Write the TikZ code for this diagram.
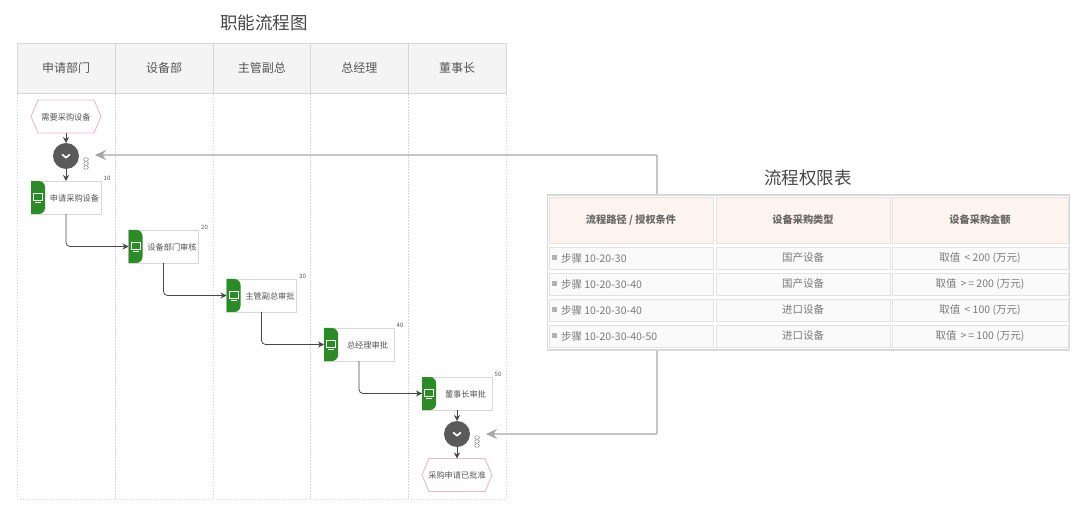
\documentclass[tikz,border=0pt]{standalone}
\usepackage{fontspec}
\setmainfont{Noto Sans CJK SC}
\usetikzlibrary{arrows.meta,calc,positioning}
\definecolor{lanegray}{HTML}{D8D8D8}
\definecolor{headfill}{HTML}{F4F4F4}
\definecolor{txt}{HTML}{555555}
\definecolor{pinkline}{HTML}{EBB6CF}
\definecolor{taskgreen}{HTML}{2A8C24}
\definecolor{gatefill}{HTML}{5A5A5A}
\definecolor{linkgray}{HTML}{A6A6A6}
\definecolor{cellline}{HTML}{E2E2E2}
\definecolor{cellfill}{HTML}{FAFAFA}
\definecolor{hdfill}{HTML}{FDF4EF}
\definecolor{celltxt}{HTML}{7A7A7A}
\tikzset{
  x=1pt,y=-1pt,
  every node/.style={inner sep=0pt,outer sep=0pt,font=\fontsize{8.2}{10}\selectfont,text=txt},
  titletext/.style={font=\fontsize{17.5}{20}\selectfont,text=black!72},
  lanehead/.style={draw=lanegray,fill=headfill,minimum height=50pt,font=\fontsize{12}{14}\selectfont,line width=.7pt},
  lanebody/.style={draw=lanegray,dash pattern=on 1.3pt off 1.7pt,minimum height=406pt,line width=.7pt},
  taskbox/.style={draw=lanegray,fill=white,minimum width=70pt,minimum height=33pt,line width=.8pt},
  tasktab/.style={fill=taskgreen},
  hexnode/.style={minimum width=70pt,minimum height=33pt},
  hexline/.style={draw=pinkline,line width=.9pt,fill=white},
  gatenode/.style={circle,fill=gatefill,minimum size=26pt},
  chev/.style={draw=white,line width=1.7pt,line cap=round,line join=round},
  flowline/.style={draw=black!72,line width=.8pt,-{Stealth[length=6pt,width=6pt]}},
  linkline/.style={draw=linkgray,line width=1.4pt,-{Stealth[length=11pt,width=10pt]}},
  numtext/.style={font=\fontsize{6}{7}\selectfont,text=txt},
  outerbox/.style={draw=lanegray,line width=1.4pt,fill=white,minimum width=522pt,minimum height=155pt},
  hdcell/.style={draw=cellline,fill=hdfill,line width=.8pt,minimum height=46pt,font=\bfseries\fontsize{10.2}{12}\selectfont,text=celltxt!85!black},
  rowcell/.style={draw=cellline,fill=cellfill,line width=.8pt,minimum height=22pt,font=\fontsize{10.5}{12}\selectfont,text=celltxt},
  colA/.style={minimum width=164pt},
  colB/.style={minimum width=174pt},
  colC/.style={minimum width=176pt},
}
\newcommand{\mktask}[5]{% name, x, y, text, num
  \node[taskbox] (#1) at (#2,#3) {};
  \node[anchor=center] (#1t) at ($(#1.center)+(8.5,0.5)$) {#4};
  \fill[tasktab] (#1.north west) -- ++(8,0) arc[start angle=-90,end angle=0,radius=6] -- ++(0,21) arc[start angle=0,end angle=90,radius=6] -- ++(-8,0) -- cycle;
  \draw[white,line width=.7pt] ($(#1.west)+(2.5,-4.5)$) rectangle ++(9,7);
  \draw[white,line width=.7pt] ($(#1.west)+(4,4.5)$) -- ++(6,0);
  \node[numtext] (#1n) at ($(#1.north east)+(6,-3)$) {#5};
}
\newcommand{\mkhex}[4]{% name,x,y,text
  \node[hexnode] (#1) at (#2,#3) {};
  \draw[hexline] (#1.west) -- ($(#1.north west)+(7,0)$) -- ($(#1.north east)+(-7,0)$) -- (#1.east) -- ($(#1.south east)+(-7,0)$) -- ($(#1.south west)+(7,0)$) -- cycle;
  \node at ($(#1.center)+(0,0.5)$) {#4};
}
\newcommand{\mkgate}[3]{% name,x,y
  \node[gatenode] (#1) at (#2,#3) {};
  \draw[chev] ($(#1.center)+(-3.5,-1.3)$) -- ($(#1.center)+(0,1.7)$) -- ($(#1.center)+(3.5,-1.3)$);
  \foreach \dy in {-4,0,4}
    \draw[black!50,line width=.6pt,fill=white,rounded corners=1pt] ($(#1.center)+(20,7.5+\dy)+(-2.2,-1.6)$) rectangle ++(4.4,3.2);
}
\begin{document}
\begin{tikzpicture}
\path[use as bounding box,fill=white] (0,0) rectangle (1080,505);
\node[titletext] (title1) at (264,23) {职能流程图};
\node[titletext] (title2) at (808,178) {流程权限表};
% lanes
\foreach \n/\x/\w/\t in {a/66/98/申请部门,b/164/98/设备部,c/261.75/97.5/主管副总,d/359.25/97.5/总经理,e/457/98/董事长}{
  \node[lanebody,minimum width=\w pt] (body\n) at (\x,296) {};
  \node[lanehead,minimum width=\w pt] (head\n) at (\x,68) {\t};
}
% elements
\mkhex{start}{66}{116.5}{需要采购设备}
\mkgate{g1}{66}{156}
\mktask{t1}{66}{197.5}{申请采购设备}{10}
\mktask{t2}{163.5}{246.5}{设备部门审核}{20}
\mktask{t3}{261.5}{295.5}{主管副总审批}{30}
\mktask{t4}{359}{344.5}{总经理审批}{40}
\mktask{t5}{457}{393.5}{董事长审批}{50}
\mkgate{g2}{457}{434}
\mkhex{stop}{457}{475}{采购申请已批准}
% flows
\draw[flowline] (start.south) -- (g1.north);
\draw[flowline] (g1.south) -- (t1.north);
\draw[flowline,rounded corners=4pt] (t1.south) |- (t2.west);
\draw[flowline,rounded corners=4pt] (t2.south) |- (t3.west);
\draw[flowline,rounded corners=4pt] (t3.south) |- (t4.west);
\draw[flowline,rounded corners=4pt] (t4.south) |- (t5.west);
\draw[flowline] (t5.south) -- (g2.north);
\draw[flowline] (g2.south) -- (stop.north);
% table
\node[outerbox] (tbl) at (808.5,272.5) {};
\node[hdcell,colA] (h1) at (631,220) {流程路径 / 授权条件};
\node[hdcell,colB] (h2) at (803,220) {设备采购类型};
\node[hdcell,colC] (h3) at (980,220) {设备采购金额};
\foreach \r/\y/\p/\q/\v in {1/258/10-20-30/国产设备/取值 \thinspace< 200 (万元),
  2/284/10-20-30-40/国产设备/取值 \thinspace>\thinspace= 200 (万元),
  3/310/10-20-30-40/进口设备/取值 \thinspace< 100 (万元),
  4/336/10-20-30-40-50/进口设备/取值 \thinspace>\thinspace= 100 (万元)}{
  \node[rowcell,colA] (ra\r) at (631,\y) {};
  \node[rowcell,colB] (rb\r) at (803,\y) {\q};
  \node[rowcell,colC] (rc\r) at (980,\y) {\v};
  \fill[black!30] ($(ra\r.west)+(3,-2.5)$) rectangle ++(5,5);
  \node[rowcell,draw=none,fill=none,minimum height=0pt,minimum width=0pt,anchor=west] (rt\r) at ($(ra\r.west)+(12,0)$) {步骤 \p};
}
% link arrows
\coordinate (lt) at (657,194);
\coordinate (lb) at (657,351);
\coordinate (g1in) at (95,155);
\coordinate (g2in) at (486,434);
\draw[linkline,rounded corners=1pt] (lt) |- (g1in);
\draw[linkline,rounded corners=1pt] (lb) |- (g2in);
\end{tikzpicture}
\end{document}
